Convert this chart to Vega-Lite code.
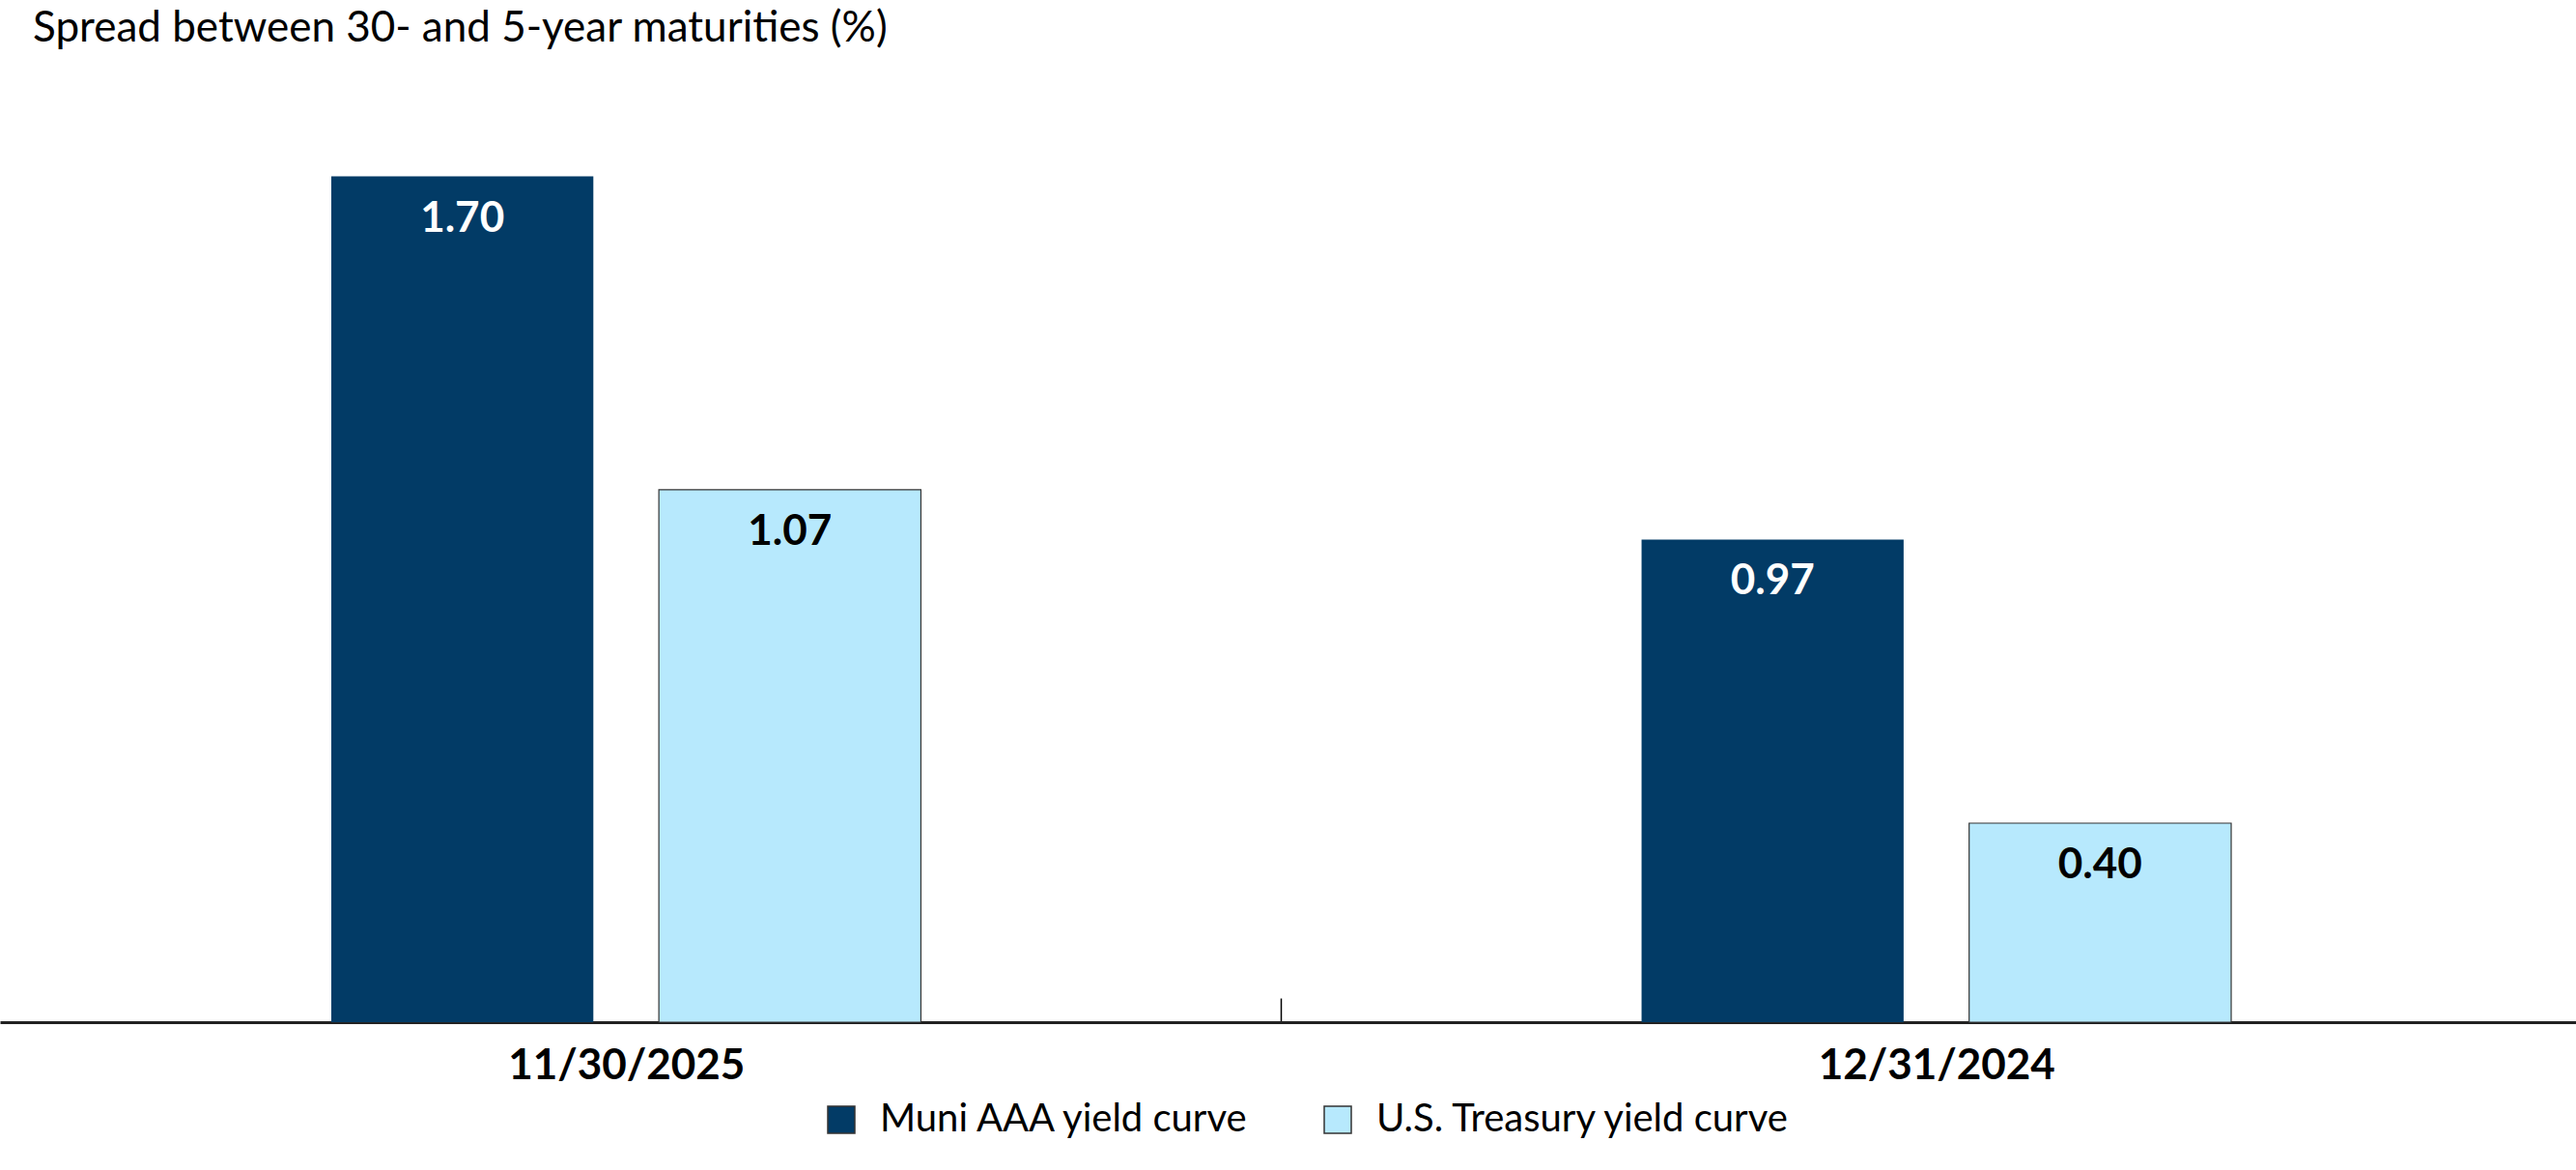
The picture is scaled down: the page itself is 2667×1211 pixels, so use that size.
{
  "$schema": "https://vega.github.io/schema/vega-lite/v6.json",
  "width": 2667,
  "height": 927,
  "autosize": {"type": "none"},
  "padding": {"left": 0, "right": 0, "top": 131, "bottom": 153},
  "background": "white",
  "view": {"stroke": null},
  "title": {
    "text": "Spread between 30- and 5-year maturities (%)",
    "anchor": "start",
    "frame": "group",
    "dx": 34,
    "baseline": "alphabetic",
    "offset": 44,
    "font": "Lato",
    "fontSize": 44,
    "fontWeight": "normal",
    "color": "black"
  },
  "data": {
    "values": [
      {"date": "11/30/2025", "curve": "Muni AAA yield curve", "spread": 1.70},
      {"date": "11/30/2025", "curve": "U.S. Treasury yield curve", "spread": 1.07},
      {"date": "12/31/2024", "curve": "Muni AAA yield curve", "spread": 0.97},
      {"date": "12/31/2024", "curve": "U.S. Treasury yield curve", "spread": 0.40}
    ]
  },
  "encoding": {
    "x": {
      "field": "date",
      "type": "nominal",
      "sort": null,
      "scale": {"paddingInner": 0.55, "paddingOuter": 0.258, "align": 0.49},
      "axis": {
        "title": null,
        "labelAngle": 0,
        "labelFont": "Lato",
        "labelFontSize": 44,
        "labelFontWeight": "bold",
        "labelColor": "black",
        "labelLimit": 0,
        "labelPadding": 48,
        "labelOffset": -678,
        "domainColor": "#222222",
        "domainWidth": 3,
        "tickSize": -25,
        "tickOffset": 678,
        "tickColor": "black",
        "tickWidth": 1.5
      }
    },
    "xOffset": {
      "field": "curve",
      "sort": null,
      "scale": {"paddingInner": 0.2, "paddingOuter": 0}
    },
    "y": {
      "field": "spread",
      "type": "quantitative",
      "scale": {"domain": [0, 1.8]},
      "axis": null
    }
  },
  "layer": [
    {
      "mark": {"type": "bar"},
      "encoding": {
        "color": {
          "field": "curve",
          "type": "nominal",
          "sort": null,
          "scale": {"range": ["#023b66", "#b7e9fd"]},
          "legend": {
            "orient": "none",
            "legendX": 851,
            "legendY": 1008,
            "direction": "horizontal",
            "title": null,
            "labelFont": "Lato",
            "labelFontSize": 40,
            "labelColor": "black",
            "labelLimit": 0,
            "symbolType": "square",
            "symbolSize": 784,
            "symbolStrokeColor": "#333333",
            "symbolStrokeWidth": 1.5,
            "labelOffset": 20,
            "columnPadding": 70
          }
        },
        "stroke": {
          "condition": {"test": "datum.curve === 'U.S. Treasury yield curve'", "value": "#333333"},
          "value": null
        },
        "strokeWidth": {"value": 1.2}
      }
    },
    {
      "mark": {
        "type": "text",
        "baseline": "middle",
        "dy": 44,
        "font": "Lato",
        "fontSize": 44,
        "fontWeight": "bold"
      },
      "encoding": {
        "text": {"field": "spread", "type": "quantitative", "format": ".2f"},
        "color": {
          "condition": {"test": "datum.curve === 'Muni AAA yield curve'", "value": "white"},
          "value": "black"
        }
      }
    }
  ]
}
